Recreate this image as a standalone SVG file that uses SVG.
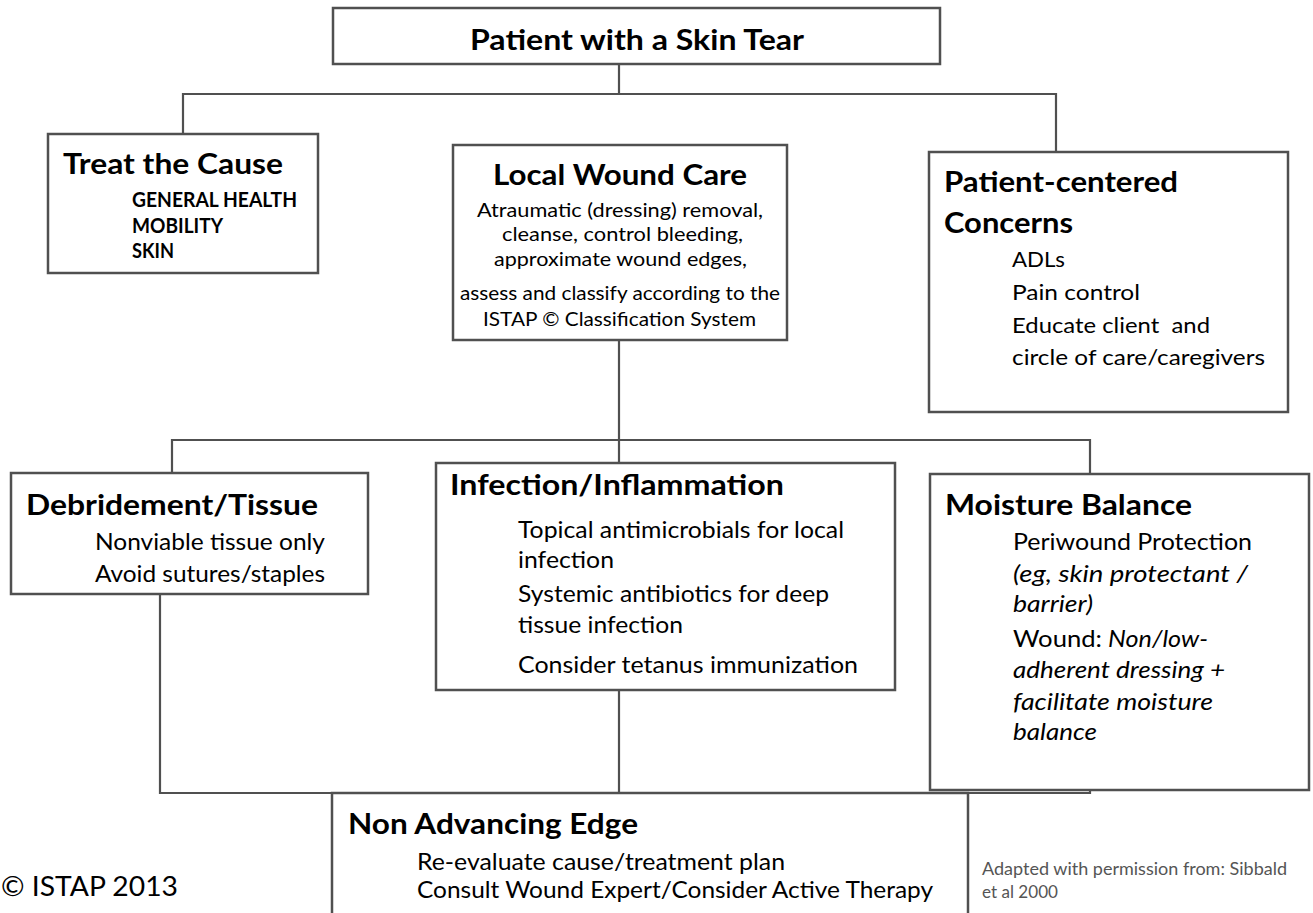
<svg xmlns="http://www.w3.org/2000/svg" width="1313" height="913" viewBox="0 0 1313 913">
<style>
.box{fill:#fff;stroke:#505050;stroke-width:2.5}
.con{fill:none;stroke:#505050;stroke-width:2.2}
text{font-family:Lato,"Noto Sans","Liberation Sans",sans-serif;fill:#000}
.h{font-size:28px;font-weight:bold}
.caps{font-size:20px;font-weight:bold}
.b19{font-size:20px}
.b22{font-size:22px}
.b23{font-size:23px}
.i{font-style:italic}
.foot{font-size:26px}
.src{font-size:17px;fill:#555}
</style>
<rect width="1313" height="913" fill="#fff"/>
<g id="connectors">
<path class="con" d="M619 64V94M183 134V94H1056V152"/>
<path class="con" d="M619 340V463M172 473V440H1090V474"/>
<path class="con" d="M160 594V793H1090V790M619 690V793"/>
</g>
<g id="patient">
<rect class="box" x="333" y="8" width="607" height="56"/>
<text class="h" x="470" y="50" textLength="334" lengthAdjust="spacingAndGlyphs">Patient with a Skin Tear</text>
</g>
<g id="treat">
<rect class="box" x="48" y="134" width="270" height="139"/>
<text class="h" x="63" y="174" textLength="220" lengthAdjust="spacingAndGlyphs">Treat the Cause</text>
<text class="caps" x="132" y="207" textLength="165" lengthAdjust="spacingAndGlyphs">GENERAL HEALTH</text>
<text class="caps" x="132" y="233" textLength="91" lengthAdjust="spacingAndGlyphs">MOBILITY</text>
<text class="caps" x="132" y="258" textLength="42" lengthAdjust="spacingAndGlyphs">SKIN</text>
</g>
<g id="local">
<rect class="box" x="453" y="145" width="334" height="195"/>
<text class="h" x="493" y="185" textLength="254" lengthAdjust="spacingAndGlyphs">Local Wound Care</text>
<text class="b19" x="477" y="217" textLength="286" lengthAdjust="spacingAndGlyphs">Atraumatic (dressing) removal,</text>
<text class="b19" x="502" y="241" textLength="241" lengthAdjust="spacingAndGlyphs">cleanse, control bleeding,</text>
<text class="b19" x="494" y="266" textLength="253" lengthAdjust="spacingAndGlyphs">approximate wound edges,</text>
<text class="b19" x="460" y="300" textLength="320" lengthAdjust="spacingAndGlyphs">assess and classify according to the</text>
<text class="b19" x="483" y="326" textLength="273" lengthAdjust="spacingAndGlyphs">ISTAP © Classification System</text>
</g>
<g id="patientcentered">
<rect class="box" x="929" y="152" width="359" height="260"/>
<text class="h" x="944" y="192" textLength="234" lengthAdjust="spacingAndGlyphs">Patient-centered</text>
<text class="h" x="944" y="233" textLength="129" lengthAdjust="spacingAndGlyphs">Concerns</text>
<text class="b22" x="1012" y="267" textLength="53" lengthAdjust="spacingAndGlyphs">ADLs</text>
<text class="b22" x="1012" y="300" textLength="128" lengthAdjust="spacingAndGlyphs">Pain control</text>
<text class="b22" x="1012" y="333" textLength="198" lengthAdjust="spacingAndGlyphs" xml:space="preserve">Educate client  and</text>
<text class="b22" x="1012" y="365" textLength="253" lengthAdjust="spacingAndGlyphs">circle of care/caregivers</text>
</g>
<g id="debridement">
<rect class="box" x="11" y="473" width="357" height="121"/>
<text class="h" x="26" y="515" textLength="292" lengthAdjust="spacingAndGlyphs">Debridement/Tissue</text>
<text class="b23" x="95" y="550" textLength="230" lengthAdjust="spacingAndGlyphs">Nonviable tissue only</text>
<text class="b23" x="95" y="582" textLength="230" lengthAdjust="spacingAndGlyphs">Avoid sutures/staples</text>
</g>
<g id="infection">
<rect class="box" x="436" y="463" width="459" height="227"/>
<text class="h" x="450" y="495" textLength="334" lengthAdjust="spacingAndGlyphs">Infection/Inflammation</text>
<text class="b23" x="518" y="538" textLength="326" lengthAdjust="spacingAndGlyphs">Topical antimicrobials for local</text>
<text class="b23" x="518" y="568" textLength="96" lengthAdjust="spacingAndGlyphs">infection</text>
<text class="b23" x="518" y="602" textLength="311" lengthAdjust="spacingAndGlyphs">Systemic antibiotics for deep</text>
<text class="b23" x="518" y="633" textLength="165" lengthAdjust="spacingAndGlyphs">tissue infection</text>
<text class="b23" x="518" y="673" textLength="340" lengthAdjust="spacingAndGlyphs">Consider tetanus immunization</text>
</g>
<g id="moisture">
<rect class="box" x="930" y="474" width="379" height="316"/>
<text class="h" x="945" y="515" textLength="247" lengthAdjust="spacingAndGlyphs">Moisture Balance</text>
<text class="b23" x="1013" y="550" textLength="239" lengthAdjust="spacingAndGlyphs">Periwound Protection</text>
<text class="b23 i" x="1013" y="582" textLength="235" lengthAdjust="spacingAndGlyphs">(eg, skin protectant /</text>
<text class="b23 i" x="1013" y="612" textLength="80" lengthAdjust="spacingAndGlyphs">barrier)</text>
<text class="b23" x="1013" y="647" textLength="89" lengthAdjust="spacingAndGlyphs">Wound:</text>
<text class="b23 i" x="1108" y="647" textLength="100" lengthAdjust="spacingAndGlyphs">Non/low-</text>
<text class="b23 i" x="1013" y="678" textLength="212" lengthAdjust="spacingAndGlyphs">adherent dressing +</text>
<text class="b23 i" x="1013" y="710" textLength="200" lengthAdjust="spacingAndGlyphs">facilitate moisture</text>
<text class="b23 i" x="1013" y="740" textLength="84" lengthAdjust="spacingAndGlyphs">balance</text>
</g>
<g id="nonadvancing">
<rect class="box" x="332" y="793" width="636" height="150"/>
<text class="h" x="348" y="834" textLength="290" lengthAdjust="spacingAndGlyphs">Non Advancing Edge</text>
<text class="b23" x="417" y="870" textLength="368" lengthAdjust="spacingAndGlyphs">Re-evaluate cause/treatment plan</text>
<text class="b23" x="417" y="898" textLength="516" lengthAdjust="spacingAndGlyphs">Consult Wound Expert/Consider Active Therapy</text>
</g>
<g id="notes">
<text class="foot" x="1" y="896" textLength="177" lengthAdjust="spacingAndGlyphs">© ISTAP 2013</text>
<text class="src" x="982" y="875" textLength="305" lengthAdjust="spacingAndGlyphs">Adapted with permission from: Sibbald</text>
<text class="src" x="982" y="898" textLength="76" lengthAdjust="spacingAndGlyphs">et al 2000</text>
</g>
</svg>
